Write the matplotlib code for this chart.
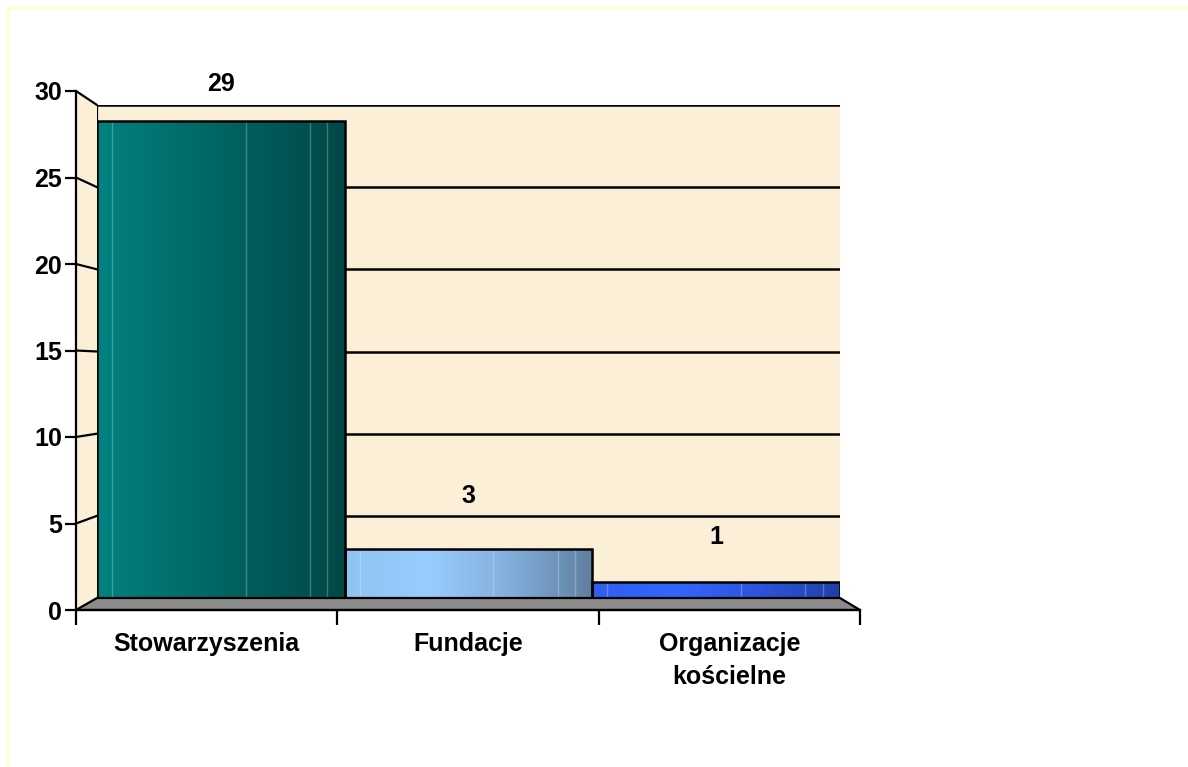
import numpy as np
import matplotlib
matplotlib.use('Agg')
import matplotlib.pyplot as plt
from matplotlib.patches import Polygon, Rectangle, ConnectionPatch
from matplotlib.lines import Line2D
from matplotlib.colors import LinearSegmentedColormap

# data
categories = ['Stowarzyszenia', 'Fundacje', 'Organizacje\nkościelne']
values = [29, 3, 1]
label_offsets = [27, 38, 32]  # points above bar top (label centre)
ticks = [0, 5, 10, 15, 20, 25, 30]

# gradient colours for each bar (left -> right)
bar_grads = [['#008280', '#007371', '#006563', '#005654', '#004847'],
             ['#8fc4f0', '#99ccff', '#82aedb', '#5f7fa0'],
             ['#2f5ff0', '#3366ff', '#2d55dd', '#2040a8']]

plt.rcParams['font.family'] = ['Liberation Sans', 'DejaVu Sans']
plt.rcParams['font.weight'] = 'bold'
FS = 18

W, H = 1188, 767
fig = plt.figure(figsize=(W / 100, H / 100), dpi=100)
fig.patch.set_facecolor('white')

def fx(px):
    return px / W

def fy(py):
    return 1 - py / H

# outer light yellow frame: only top and left edges are visible
fig.add_artist(Line2D([fx(7), fx(7), 1.0], [0.0, fy(8), fy(8)],
                      transform=fig.transFigure, color='#ffffc8', lw=2))

# back plane (bars and grid)
axb = fig.add_axes([fx(97), fy(598), fx(840) - fx(97), fy(105) - fy(598)])
axb.set_xlim(-0.5, 2.5)
axb.set_ylim(0, 30)
axb.axis('off')

# front plane (axes, ticks, labels)
axf = fig.add_axes([fx(76), fy(610), fx(860) - fx(76), fy(91) - fy(610)])
axf.set_xlim(-0.5, 2.5)
axf.set_ylim(0, 30)
axf.patch.set_alpha(0)
for s in ['top', 'right']:
    axf.spines[s].set_visible(False)
for s in ['left', 'bottom']:
    axf.spines[s].set_linewidth(1.6)
axf.set_yticks(ticks)
axf.set_yticklabels([str(t) for t in ticks], fontsize=FS, fontweight='bold')
axf.set_xticks([-0.5, 0.5, 1.5, 2.5], minor=False)
axf.set_xticklabels([])
axf.set_xticks([0, 1, 2], minor=True)
axf.set_xticklabels(categories, minor=True, fontsize=FS, fontweight='bold',
                    linespacing=1.45)
axf.tick_params(axis='x', which='minor', length=0, pad=16)
axf.tick_params(axis='x', which='major', length=11, width=1.6, direction='out')
axf.tick_params(axis='y', length=8, width=1.6, pad=2)
axf.set_zorder(3)

# walls and floor (decoration, in figure pixels)
wall_col = '#fcefd8'
left_wall = Polygon([(fx(76), fy(91)), (fx(97), fy(105)), (fx(97), fy(598)), (fx(76), fy(610))],
                    closed=True, transform=fig.transFigure, facecolor=wall_col,
                    edgecolor='none', zorder=0)
fig.add_artist(left_wall)
axb.add_patch(Rectangle((-0.5, 0), 3, 30, facecolor=wall_col, edgecolor='none', zorder=0))
axb.plot([-0.5, -0.5], [0, 30], color='black', lw=1.6, zorder=1)

# gridlines on back wall
for t in ticks[1:]:
    axb.axhline(t, color='black', lw=1.8, zorder=1)
    con = ConnectionPatch(xyA=(-0.5, t), coordsA=axf.transData,
                          xyB=(-0.5, t), coordsB=axb.transData,
                          color='black', lw=1.6)
    fig.add_artist(con)

floor = Polygon([(fx(97), fy(598)), (fx(840), fy(598)), (fx(860), fy(610)), (fx(76), fy(610))],
                closed=True, transform=fig.transFigure, facecolor='#8c8c8c',
                edgecolor='black', lw=1.6, zorder=2)
fig.add_artist(floor)

# bars
bars = axb.bar(range(len(values)), values, width=1.0, color='none',
               edgecolor='black', lw=1.8, zorder=4)
for i, b in enumerate(bars):
    cmap = LinearSegmentedColormap.from_list('g%d' % i, bar_grads[i])
    grad = np.linspace(0, 1, 256).reshape(1, -1)
    im = axb.imshow(grad, cmap=cmap, aspect='auto', zorder=3,
                    extent=[b.get_x(), b.get_x() + b.get_width(), 0, b.get_height()])
    im.set_clip_path(b)
    # faint light streaks like the original
    for f in [0.06, 0.6, 0.86, 0.93]:
        xs = b.get_x() + f * b.get_width()
        axb.plot([xs, xs], [0, b.get_height()], color='white', alpha=0.25, lw=1, zorder=3.5)
    axb.annotate(str(values[i]), (i, values[i]), xytext=(0, label_offsets[i]),
                 textcoords='offset points', ha='center', va='center',
                 fontsize=FS, fontweight='bold')

axb.set_xlim(-0.5, 2.5)
axb.set_ylim(0, 30)

fig.savefig('out.png', dpi=100)
